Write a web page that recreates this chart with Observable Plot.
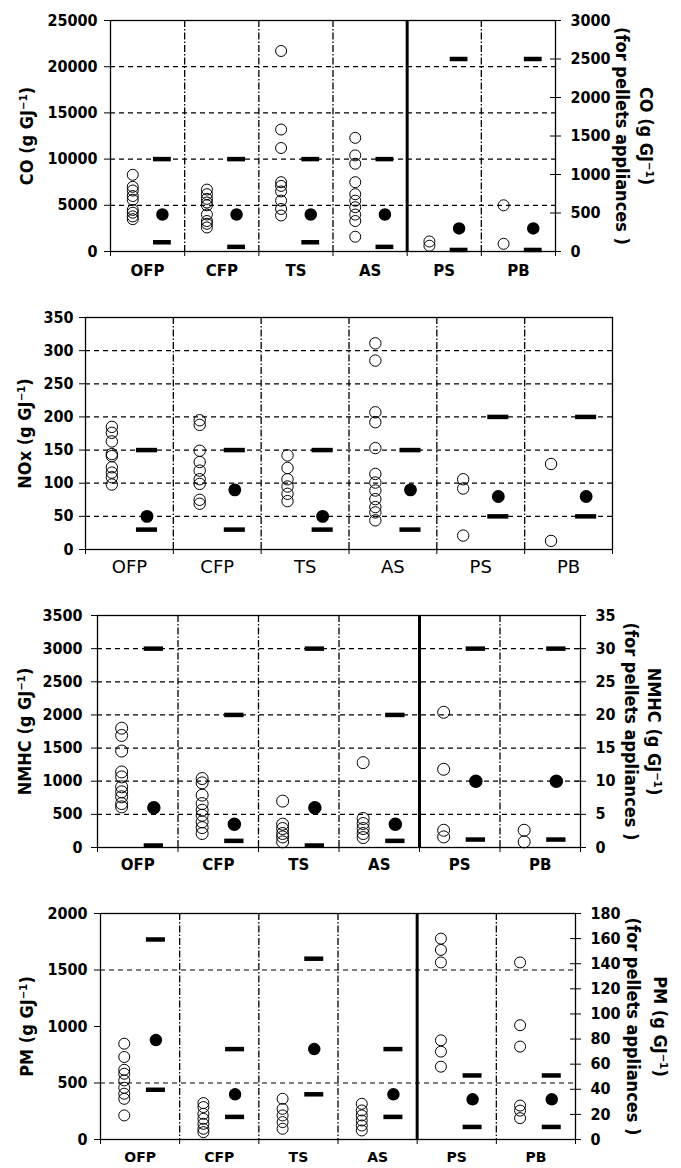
<!DOCTYPE html>
<html><head><meta charset="utf-8">
<script src="https://cdn.jsdelivr.net/npm/d3@7"></script>
<script src="https://cdn.jsdelivr.net/npm/@observablehq/plot@0.6"></script>
<style>
body{margin:0;background:#fff;}
#wrap{position:relative;width:681px;height:1168px;overflow:hidden;}
.panel{position:absolute;left:0;overflow:visible;}
g[aria-label="cat-spaced"] text{letter-spacing:2px;}
g[aria-label="cat-plain"] text{letter-spacing:1px;}
g[aria-label="axis-title"] text{letter-spacing:0.6px;}
</style></head><body><div id="wrap"></div>
<script>
const categories = ["OFP","CFP","TS","AS","PS","PB"];

// CO (g GJ-1); PS and PB values read on the right (pellets) axis
const coMeasured = [
  [8300, 7000, 6600, 6000, 5600, 4500, 4200, 3800, 3500],
  [6700, 6200, 5700, 5300, 5000, 4000, 3300, 3000, 2600],
  [21700, 13200, 11200, 7500, 7100, 6500, 5500, 4600, 3900],
  [12300, 10400, 9500, 7500, 6200, 5500, 4800, 4000, 3300, 1600],
  [130, 75],
  [600, 100]
];
const coMean = [4000, 4000, 4000, 4000, 300, 300];
const coLimitHigh = [10000, 10000, 10000, 10000, 2500, 2500];
const coLimitLow = [1000, 500, 1000, 500, 20, 20];

// NOx (g GJ-1), single axis
const noxMeasured = [
  [185, 176, 163, 144, 141, 124, 116, 109, 98],
  [195, 188, 149, 132, 119, 106, 99, 75, 69],
  [142, 123, 106, 95, 84, 73],
  [311, 285, 207, 192, 153, 114, 101, 89, 76, 64, 56, 44],
  [106, 92, 21],
  [129, 13]
];
const noxMean = [50, 90, 50, 90, 80, 80];
const noxLimitHigh = [150, 150, 150, 150, 200, 200];
const noxLimitLow = [30, 30, 30, 30, 50, 50];

// NMHC (g GJ-1); PS and PB on right axis
const nmhcMeasured = [
  [1800, 1690, 1455, 1140, 1065, 915, 840, 765, 663, 613],
  [1040, 975, 790, 663, 563, 487, 387, 300, 211],
  [700, 352, 286, 211, 160, 85],
  [1280, 437, 362, 286, 211, 150],
  [20.4, 11.8, 2.6, 1.6],
  [2.6, 0.85]
];
const nmhcMean = [600, 350, 600, 350, 10, 10];
const nmhcLimitHigh = [3000, 2000, 3000, 2000, 30, 30];
const nmhcLimitLow = [30, 100, 30, 100, 1.2, 1.2];

// PM (g GJ-1); PS and PB on right axis
const pmMeasured = [
  [848, 730, 617, 582, 523, 458, 405, 360, 213],
  [322, 287, 227, 183, 139, 95, 65],
  [360, 271, 213, 154, 95],
  [316, 257, 213, 168, 124, 80],
  [160, 151, 141, 79, 70, 58],
  [141, 91, 74, 27, 23, 17]
];
const pmMean = [880, 400, 800, 400, 32, 32];
const pmLimitHigh = [1770, 800, 1600, 800, 51, 51];
const pmLimitLow = [440, 200, 400, 200, 10, 10];

const FONT = "'DejaVu Sans Condensed', 'DejaVu Sans', Verdana, sans-serif";
const FONT_CAT = "'DejaVu Sans', Verdana, sans-serif";

function panel(cfg) {
  const k = cfg.rightMax ? cfg.yMax / cfg.rightMax : 1;
  const f = i => (cfg.rightMax && i >= 4) ? k : 1;
  const circles = cfg.measured.flatMap((vals, i) => vals.map(v => ({i, v: v * f(i)})));
  const means = cfg.mean.map((v, i) => ({i, v: v * f(i)}));
  const bars = [...cfg.hi.map((v, i) => ({i, v: v * f(i)})), ...cfg.lo.map((v, i) => ({i, v: v * f(i)}))];
  const dashDiv = cfg.rightMax ? [1, 2, 3, 5] : [1, 2, 3, 4, 5];
  const unitPx = (681 - cfg.ml - cfg.mr) / 6;
  const marks = [
    Plot.ruleY(cfg.grid, {stroke: "#000", strokeWidth: 1.2, strokeDasharray: "5,4"}),
    Plot.ruleX(dashDiv, {stroke: "#000", strokeWidth: 1.3, strokeDasharray: "7,2,1.5,2"}),
    Plot.frame({stroke: "#000", strokeWidth: 1.3}),
    Plot.axisY({anchor: "left", ticks: d3.range(0, cfg.yMax + 1e-9, cfg.yStep), tickFormat: d => String(d),
      tickSize: 6, tickPadding: cfg.padL, label: null, fontWeight: "bold", fontSize: 16}),
    Plot.axisX({ticks: d3.range(0, 7), tickFormat: () => "", tickSize: 5, label: null}),
    Plot.text(categories, {x: (d, i) => i + 0.5, text: d => d, frameAnchor: "bottom", dy: cfg.catDy, lineAnchor: "middle",
      fontFamily: FONT_CAT, fontWeight: cfg.catBold ? "bold" : "normal", fontSize: cfg.catSize,
      ariaLabel: cfg.catBold ? "cat-spaced" : "cat-plain"}),
    Plot.ruleY(bars, {x1: d => d.i + 0.58, x2: d => d.i + 0.82, y: "v", stroke: "#000", strokeWidth: 4.5}),
    Plot.dot(circles, {x: d => d.i + 0.3, y: "v", r: cfg.r, stroke: "#000", fill: "none", strokeWidth: 1}),
    Plot.dot(means, {x: d => d.i + 0.7, y: "v", r: cfg.r, fill: "#000", stroke: "#000"}),
    Plot.text([cfg.title], {text: d => d, frameAnchor: "left", textAnchor: "middle", lineAnchor: "middle",
      dx: cfg.titleDx, rotate: -90, fontWeight: "bold", fontSize: 18, ariaLabel: "axis-title"})
  ];
  if (cfg.rightMax) {
    const rticks = d3.range(0, cfg.rightMax + 1e-9, cfg.rightStep).map(v => v * k);
    marks.push(Plot.ruleX([4], {stroke: "#000", strokeWidth: 3}));
    marks.push(Plot.axisY({anchor: "right", ticks: rticks,
      tickFormat: v => String(Math.round(v / k)), tickSize: 5, tickPadding: 10, label: null, fontWeight: "bold", fontSize: 16}));
    marks.push(Plot.ruleY(rticks, {x1: 6 - 5 / unitPx, x2: 6, stroke: "#000", strokeWidth: 1}));
    marks.push(Plot.text([cfg.title + "\n(for pellets appliances )"], {text: d => d, frameAnchor: "right", textAnchor: "middle", lineAnchor: "middle",
      dx: cfg.rtDx, rotate: 90, lineHeight: cfg.rtLH, fontWeight: "bold", fontSize: 18, ariaLabel: "axis-title"}));
  }
  const chart = Plot.plot({
    width: 681, height: cfg.height,
    marginTop: cfg.mt, marginBottom: cfg.mb, marginLeft: cfg.ml, marginRight: cfg.mr,
    style: {fontFamily: FONT, fontSize: "16px", color: "#000", background: "#fff"},
    x: {type: "linear", domain: [0, 6]},
    y: {type: "linear", domain: [0, cfg.yMax]},
    marks
  });
  chart.classList.add("panel");
  chart.style.position = "absolute";
  chart.style.top = cfg.top + "px";
  document.getElementById("wrap").appendChild(chart);
}

panel({top: 0, height: 290, mt: 20, mb: 39, ml: 110, mr: 126, yMax: 25000, yStep: 5000, grid: [5000, 10000, 15000, 20000],
  rightMax: 3000, rightStep: 500, measured: coMeasured, mean: coMean, hi: coLimitHigh, lo: coLimitLow,
  title: "CO (g GJ⁻¹)", titleDx: -83, rtDx: 80, rtLH: 1.3, padL: 7, catDy: 20, catBold: true, catSize: 15, r: 5.5});

panel({top: 290, height: 300, mt: 27, mb: 41, ml: 85, mr: 69, yMax: 350, yStep: 50, grid: [50, 100, 150, 200, 250, 300, 350],
  measured: noxMeasured, mean: noxMean, hi: noxLimitHigh, lo: noxLimitLow,
  title: "NOx (g GJ⁻¹)", titleDx: -60, padL: 6, catDy: 18, catBold: false, catSize: 18, r: 5.7});

panel({top: 590, height: 290, mt: 25, mb: 33, ml: 97, mr: 101, yMax: 3500, yStep: 500, grid: [500, 1000, 1500, 2000, 2500, 3000],
  rightMax: 35, rightStep: 5, measured: nmhcMeasured, mean: nmhcMean, hi: nmhcLimitHigh, lo: nmhcLimitLow,
  title: "NMHC (g GJ⁻¹)", titleDx: -72, rtDx: 63.5, rtLH: 1.3, padL: 9, catDy: 18, catBold: true, catSize: 15, r: 6});

panel({top: 880, height: 288, mt: 33, mb: 29, ml: 100, mr: 106, yMax: 2000, yStep: 500, grid: [500, 1500],
  rightMax: 180, rightStep: 20, measured: pmMeasured, mean: pmMean, hi: pmLimitHigh, lo: pmLimitLow,
  title: "PM (g GJ⁻¹)", titleDx: -73, rtDx: 73.5, rtLH: 1.5, padL: 7, catDy: 18, catBold: true, catSize: 14, r: 5.5});
</script></body></html>
